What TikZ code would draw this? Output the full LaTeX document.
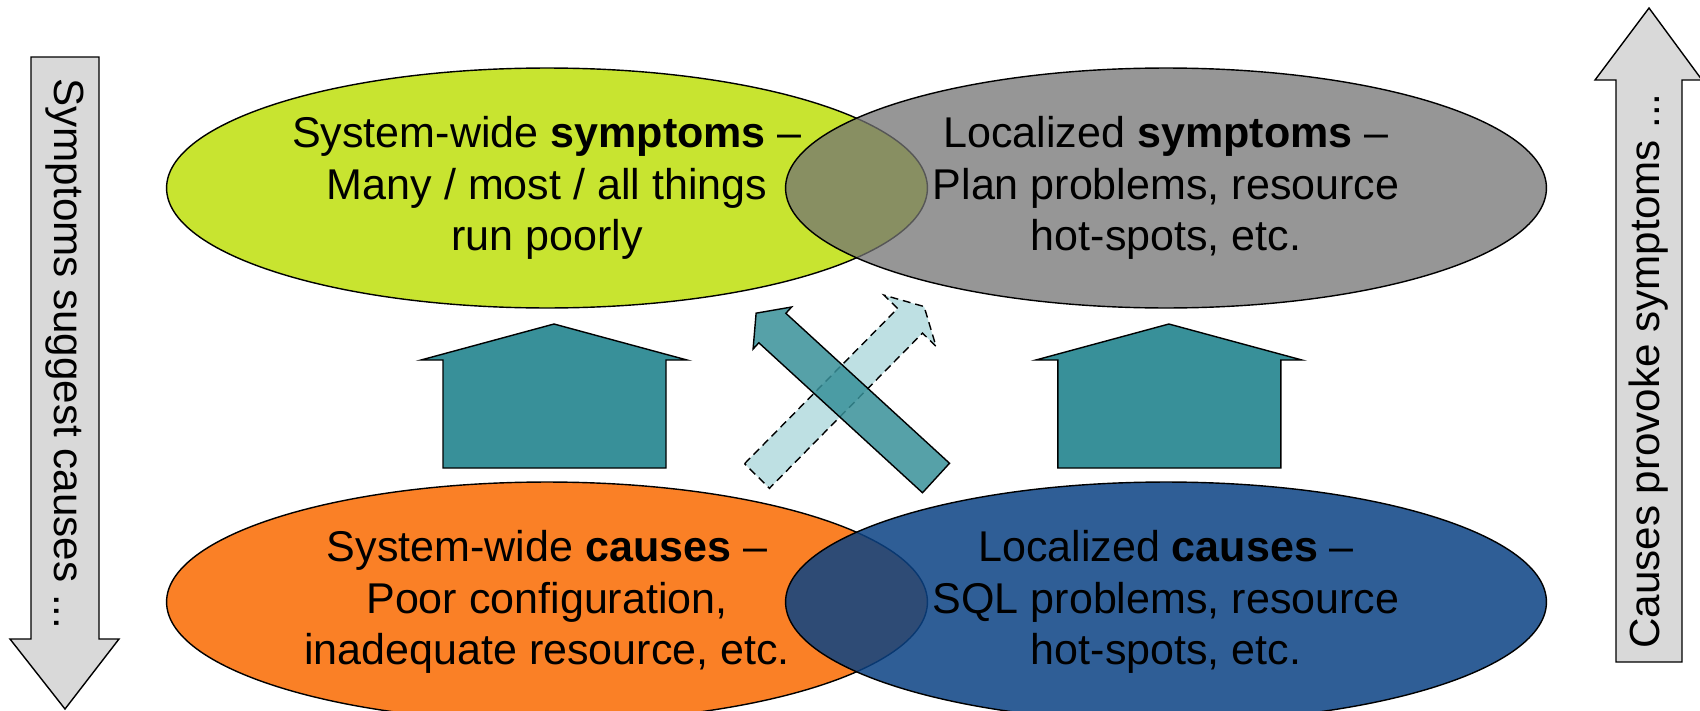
\documentclass[tikz,border=0pt]{standalone}
\usepackage{fontspec}
\setmainfont{Liberation Sans}
\usetikzlibrary{shapes.geometric}

\definecolor{limegreen}{RGB}{200,228,48}
\definecolor{midgrey}{RGB}{115,115,115}
\definecolor{causeorange}{RGB}{250,128,38}
\definecolor{causeblue}{RGB}{11,66,132}
\definecolor{houseteal}{RGB}{56,144,153}
\definecolor{paleteal}{RGB}{168,214,218}
\definecolor{sidegrey}{RGB}{217,217,217}

\begin{document}
\begin{tikzpicture}[x=0.02cm, y=-0.02cm, line width=0.8pt,
    blob/.style={ellipse, draw, minimum width=15.22cm, minimum height=4.8cm,
        inner sep=0pt, align=center, font=\fontsize{24.5}{29.5}\selectfont},
    side/.style={draw, fill=sidegrey},
    sidetext/.style={font=\fontsize{24}{28}\selectfont},
    house/.style={draw, fill=houseteal}]
\useasboundingbox (0,0) rectangle (1700,710);
\clip (0,0) rectangle (1700,710);

% side arrows
\draw[side] (31,57)--(99,57)--(99,639)--(119,639)--(65,709)--(10,639)--(31,639)--cycle;
\node[sidetext, rotate=-90] (suggest) at (65,354) {Symptoms suggest causes ...};
\draw[side] (1616,662)--(1616,80)--(1595,80)--(1649,8)--(1702,80)--(1682,80)--(1682,662)--cycle;
\node[sidetext, rotate=90] (provoke) at (1649,371) {Causes provoke symptoms ...};

% houses
\draw[house] (443,468)--(443,360)--(421,360)--(554,324)--(687,360)--(666,360)--(666,468)--cycle;
\begin{scope}[xshift=12.3cm]
    \draw[house] (443,468)--(443,360)--(421,360)--(554,324)--(687,360)--(666,360)--(666,468)--cycle;
\end{scope}

% crossed arrows
\begin{scope}[shift={(757,476)}, rotate=45.4]
    \draw[fill=paleteal, fill opacity=.75, dash pattern=on 4.5pt off 2.8pt]
        (0,-17.5)--(218,-17.5)--(218,-36.5)--(238,0)--(218,36.5)--(218,17.5)--(0,17.5)--cycle;
\end{scope}
\begin{scope}[shift={(936,478)}, rotate=137.5]
    \draw[fill=houseteal, fill opacity=.85]
        (0,-20)--(222,-20)--(222,-28.5)--(244,0)--(222,28.5)--(222,20)--(0,20)--cycle;
\end{scope}

% ellipses
\node[blob, fill=limegreen] (sysSym) at (547,188)
    {System-wide \textbf{symptoms} --\\ Many / most / all things\\ run poorly};
\node[blob, fill=midgrey, fill opacity=.75, text opacity=1] (locSym) at (1166,188)
    {Localized \textbf{symptoms} --\\ Plan problems, resource\\ hot-spots, etc.};
\node[blob, fill=causeorange] (sysCause) at (547,602)
    {System-wide \textbf{causes} --\\ Poor configuration,\\ inadequate resource, etc.};
\node[blob, fill=causeblue, fill opacity=.85, text opacity=1] (locCause) at (1166,602)
    {Localized \textbf{causes} --\\ SQL problems, resource\\ hot-spots, etc.};
\end{tikzpicture}
\end{document}
